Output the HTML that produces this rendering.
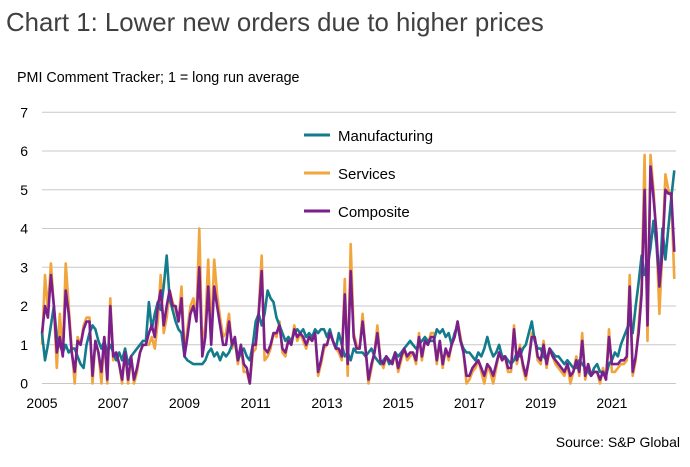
<!DOCTYPE html>
<html><head><meta charset="utf-8"><style>
body{margin:0;background:#fff;font-family:"Liberation Sans",sans-serif;}
svg text{font-family:"Liberation Sans",sans-serif;}
</style></head><body>
<svg id="chart" width="690" height="462" xmlns="http://www.w3.org/2000/svg">
<text x="6" y="31" font-size="25.8" fill="#404040">Chart 1: Lower new orders due to higher prices</text>
<text x="17" y="82" font-size="14.3" fill="#000">PMI Comment Tracker; 1 = long run average</text>
<text x="680" y="447" font-size="14" fill="#000" text-anchor="end">Source: S&amp;P Global</text>
<g id="grid"></g>
<g id="ylab"></g>
<g id="xlab"></g>
<g id="series"></g>
<g>
<line x1="304" y1="135" x2="330" y2="135" stroke="#137b8b" stroke-width="3"/>
<text x="338" y="141" font-size="15">Manufacturing</text>
<line x1="304" y1="173" x2="330" y2="173" stroke="#f2a53c" stroke-width="3"/>
<text x="338" y="179" font-size="15">Services</text>
<line x1="304" y1="211" x2="330" y2="211" stroke="#7a1f8c" stroke-width="3"/>
<text x="338" y="217" font-size="15">Composite</text>
</g>
</svg>
<script>
const yTicks=[0,1,2,3,4,5,6,7];
const xTickYears=[2005,2007,2009,2011,2013,2015,2017,2019,2021];
const startYear=2005;
const manufacturing=[
1.3,0.6,1.0,1.5,2.0,1.2,1.0,0.8,1.0,0.8,0.9,0.9,
0.7,0.5,0.4,1.0,1.3,1.5,1.4,1.1,0.9,1.1,0.8,1.0,
0.8,0.6,0.8,0.6,0.9,0.5,0.7,0.8,0.9,1.0,1.1,1.1,
2.1,1.4,1.8,2.1,1.9,2.5,3.3,2.2,1.9,1.6,1.4,1.3,
0.7,0.6,0.55,0.5,0.5,0.5,0.5,0.6,0.8,0.9,0.7,0.8,
0.6,0.8,0.7,0.8,1.0,1.1,0.6,0.8,0.9,0.7,0.6,1.0,
1.6,1.8,1.5,1.8,2.4,2.2,2.1,1.7,1.5,1.3,1.1,1.2,
1.1,1.3,1.4,1.3,1.4,1.2,1.3,1.2,1.4,1.3,1.4,1.4,
1.2,1.4,1.1,0.9,1.3,1.0,0.7,0.8,0.6,0.9,0.8,0.8,
0.8,0.7,0.8,0.9,0.7,0.6,0.5,0.6,0.7,0.5,0.6,0.8,
0.7,0.8,0.9,1.0,1.1,1.0,0.9,1.0,1.1,1.2,1.1,1.1,
1.1,1.4,1.3,1.4,1.2,1.3,1.0,1.3,1.5,1.1,0.9,0.8,
0.8,0.7,0.6,0.8,0.7,0.9,1.2,0.9,0.7,0.8,1.0,0.7,
0.7,0.6,0.5,0.6,0.8,0.7,0.9,1.0,1.3,1.6,1.1,0.9,
0.9,0.7,0.6,0.9,0.8,0.7,0.7,0.6,0.5,0.6,0.5,0.4,
0.4,0.6,0.5,0.4,0.3,0.2,0.4,0.5,0.3,0.3,0.2,0.5,
0.6,0.8,0.7,1.0,1.2,1.4,1.6,1.3,2.0,2.6,3.3,2.8,
3.0,3.5,4.2,3.6,2.6,4.0,3.2,4.0,4.8,5.5];
const services=[
1.0,2.8,1.9,3.1,2.0,0.4,1.8,0.8,3.1,2.0,0.9,0.0,
1.2,1.0,1.5,1.7,1.7,0.0,1.1,0.8,0.0,1.2,0.0,2.2,
0.6,0.8,0.5,0.0,0.9,0.0,0.7,0.0,0.3,0.8,1.0,1.0,
1.0,1.2,0.9,1.6,2.8,1.3,1.7,2.4,2.1,1.9,1.6,2.5,
0.8,1.4,2.0,2.2,1.7,4.0,0.9,1.5,3.2,1.2,3.2,2.3,
1.7,1.2,1.3,1.8,0.9,1.1,0.5,1.0,0.3,0.3,0.0,0.8,
0.9,1.9,3.3,0.6,0.7,0.9,1.3,1.2,1.6,0.8,0.7,1.2,
1.0,1.5,1.1,1.3,1.1,0.9,1.2,1.1,1.3,0.2,0.5,0.9,
1.0,1.3,1.1,0.9,0.8,0.6,2.7,0.2,3.6,1.3,1.0,0.9,
1.8,0.9,0.0,0.4,0.8,1.5,0.6,0.4,0.7,0.6,0.5,0.8,
0.3,0.6,0.9,0.6,0.7,0.8,0.5,1.3,0.6,1.1,1.0,1.3,
1.3,0.5,1.1,0.4,0.9,0.6,1.0,1.2,1.6,1.2,0.8,0.0,
0.1,0.3,0.4,0.6,0.3,0.0,0.4,0.3,0.0,0.4,0.8,0.6,
0.7,0.3,0.3,1.5,0.5,1.0,0.4,0.1,0.6,1.3,1.2,0.6,
0.5,1.1,0.4,0.9,0.7,0.5,0.4,0.3,0.2,0.5,0.0,0.3,
0.7,0.2,1.3,0.1,0.5,0.2,0.3,0.3,0.0,0.4,0.1,1.4,
0.3,0.3,0.4,0.5,0.5,0.6,2.8,0.2,0.6,1.5,2.5,5.9,
1.1,5.9,5.0,3.8,1.8,3.5,5.4,5.0,4.8,2.7];
const composite=[
1.3,2.0,1.7,2.8,2.0,0.8,1.2,0.7,2.4,1.8,0.8,0.3,
1.1,1.0,1.4,1.6,1.6,0.2,1.1,0.8,0.3,1.2,0.1,2.0,
0.7,0.8,0.5,0.1,0.8,0.1,0.7,0.1,0.4,0.8,1.0,1.0,
1.3,1.5,1.2,2.0,2.4,1.5,2.0,2.4,2.0,2.0,1.6,2.2,
0.7,1.2,1.8,2.0,1.6,3.0,0.7,1.2,2.5,1.0,2.5,2.0,
1.5,1.0,1.0,1.6,1.0,1.2,0.6,1.0,0.5,0.4,0.0,1.0,
1.0,1.8,2.9,0.9,0.8,1.0,1.3,1.3,1.5,0.9,0.8,1.1,
1.0,1.4,1.2,1.3,1.2,1.0,1.2,1.1,1.3,0.3,0.6,1.0,
1.0,1.3,1.1,0.9,0.9,0.7,2.3,0.5,2.9,1.2,0.9,0.9,
1.6,0.9,0.1,0.5,0.8,1.3,0.6,0.5,0.7,0.6,0.5,0.8,
0.4,0.7,0.9,0.7,0.8,0.8,0.6,1.2,0.7,1.1,1.0,1.2,
1.2,0.6,1.1,0.5,0.9,0.7,1.0,1.2,1.6,1.1,0.8,0.2,
0.2,0.4,0.5,0.6,0.4,0.2,0.5,0.4,0.2,0.5,0.8,0.6,
0.7,0.4,0.4,1.4,0.6,0.9,0.5,0.2,0.6,1.2,1.2,0.7,
0.6,1.0,0.5,0.9,0.7,0.6,0.5,0.4,0.3,0.5,0.2,0.3,
0.6,0.3,1.1,0.2,0.5,0.2,0.3,0.3,0.1,0.3,0.1,1.2,
0.5,0.5,0.5,0.6,0.6,0.7,2.5,0.3,0.7,1.3,2.3,5.0,
1.5,5.6,4.8,3.9,2.5,3.4,5.0,4.9,4.9,3.4];

const NS='http://www.w3.org/2000/svg';
const X0=42,YEARW=35.62,Y0=383.5,UNIT=38.75,XR=676;
const xScale=i=>X0+i*YEARW/12;
const xYear=y=>X0+(y-startYear)*YEARW;
const yScale=v=>Y0-v*UNIT;
const grid=document.getElementById('grid'),ylab=document.getElementById('ylab'),xlab=document.getElementById('xlab'),ser=document.getElementById('series');
yTicks.forEach(t=>{
 const l=document.createElementNS(NS,'line');
 
 
 l.setAttribute('x1',X0);l.setAttribute('x2',XR);
 l.setAttribute('y1',yScale(t));l.setAttribute('y2',yScale(t));
 l.setAttribute('stroke','#c8c8c8');l.setAttribute('stroke-width','1');
 grid.appendChild(l);
 const tx=document.createElementNS(NS,'text');
 
 
 tx.setAttribute('x',28);tx.setAttribute('y',yScale(t)+5);
 tx.setAttribute('text-anchor','end');tx.setAttribute('font-size','14');
 tx.textContent=t;ylab.appendChild(tx);
});
xTickYears.forEach(y=>{
 const tx=document.createElementNS(NS,'text');
 
 
 tx.setAttribute('x',xYear(y));tx.setAttribute('y',408);
 tx.setAttribute('text-anchor','middle');tx.setAttribute('font-size','14');
 tx.textContent=y;xlab.appendChild(tx);
});
function line(data,color,name){
 const p=document.createElementNS(NS,'polyline');
 
 
 p.setAttribute('points',data.map((v,i)=>xScale(i).toFixed(1)+','+yScale(v).toFixed(1)).join(' '));
 p.setAttribute('fill','none');p.setAttribute('stroke',color);
 p.setAttribute('stroke-width','2.6');p.setAttribute('stroke-linejoin','round');
 ser.appendChild(p);
}
line(services,'#f2a53c','services-line');
line(manufacturing,'#137b8b','manufacturing-line');
line(composite,'#7a1f8c','composite-line');
</script>
</body></html>
